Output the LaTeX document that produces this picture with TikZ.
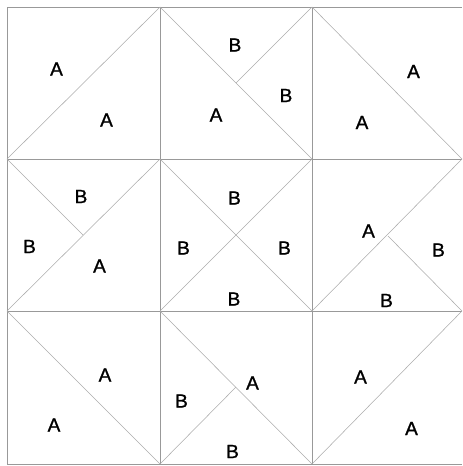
\documentclass[tikz,border=0pt]{standalone}
\usepackage{fontspec}
\setmainfont{Liberation Sans}
\newfontfamily\lblfont[FakeBold=1.2]{Liberation Sans}
\begin{document}
\begin{tikzpicture}[x=1pt,y=-1pt,
  gridline/.style={draw=gray!80,line width=0.6pt},
  diag/.style={draw=gray!65,line width=0.55pt},
  lbl/.style={font=\lblfont\fontsize{19}{19}\selectfont,text=black,inner sep=0pt}]
\useasboundingbox (0,0) rectangle (463,466);
% corner coordinates
\foreach \i/\x in {0/7,1/160,2/312,3/462}{
  \foreach \j/\y in {0/7,1/159,2/311,3/464}{
    \coordinate (p\i\j) at (\x,\y);
  }
}
\coordinate (c10) at (236,83);
\coordinate (c01) at (83,235);
\coordinate (c21) at (388,236);
\coordinate (c12) at (236,387);
% grid
\foreach \j in {0,1,2,3}{\draw[gridline] (p0\j) -- (p3\j);}
\foreach \i in {0,1,2}{\draw[gridline] (p\i0) -- (p\i3);}
% diagonals
\draw[diag] (p01) -- (p10);
\draw[diag] (p10) -- (p21);
\draw[diag] (c10) -- (p20);
\draw[diag] (p20) -- (p31);
\draw[diag] (p02) -- (p11);
\draw[diag] (p01) -- (c01);
\draw[diag] (p11) -- (p22);
\draw[diag] (p12) -- (p21);
\draw[diag] (p22) -- (p31);
\draw[diag] (c21) -- (p32);
\draw[diag] (p02) -- (p13);
\draw[diag] (p12) -- (p23);
\draw[diag] (c12) -- (p13);
\draw[diag] (p23) -- (p32);
% labels
\node[lbl] (a1) at (56.5,69) {A};
\node[lbl] (a2) at (106.5,120) {A};
\node[lbl] (b1) at (235,45) {B};
\node[lbl] (b2) at (286,95.5) {B};
\node[lbl] (a3) at (216,115) {A};
\node[lbl] (a4) at (413.5,71.5) {A};
\node[lbl] (a5) at (362,122.5) {A};
\node[lbl] (b3) at (81,196.5) {B};
\node[lbl] (b4) at (29.5,246.5) {B};
\node[lbl] (a6) at (99.5,266) {A};
\node[lbl] (b5) at (234.5,198) {B};
\node[lbl] (b6) at (183.5,248) {B};
\node[lbl] (b7) at (284.5,248) {B};
\node[lbl] (b8) at (234,299) {B};
\node[lbl] (a7) at (368.5,231) {A};
\node[lbl] (b9) at (438.5,250) {B};
\node[lbl] (b10) at (386.5,300.5) {B};
\node[lbl] (a8) at (105,375) {A};
\node[lbl] (a9) at (54,425) {A};
\node[lbl] (b11) at (181.5,401) {B};
\node[lbl] (a10) at (252.5,383) {A};
\node[lbl] (b12) at (232.5,451.5) {B};
\node[lbl] (a11) at (360.5,377) {A};
\node[lbl] (a12) at (411.5,428.5) {A};
\end{tikzpicture}
\end{document}
